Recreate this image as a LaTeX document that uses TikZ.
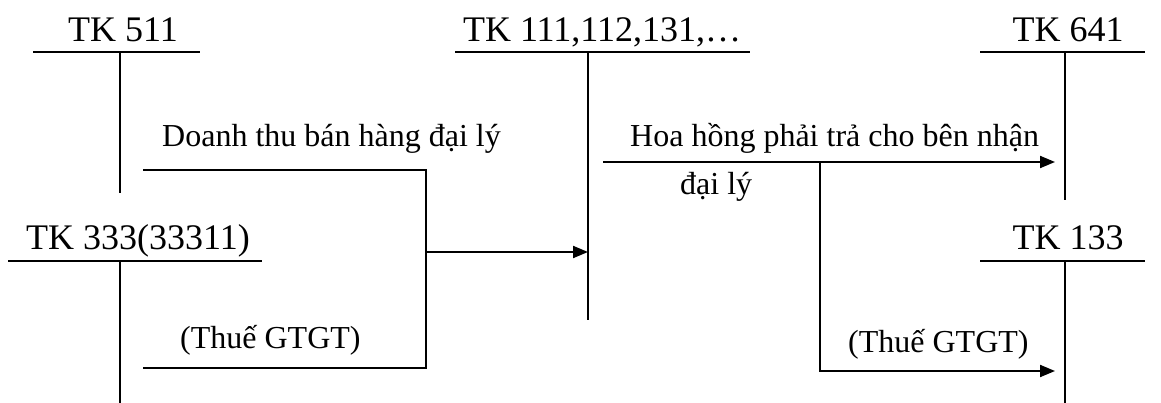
\documentclass[tikz,border=0pt]{standalone}
\usepackage{fontspec}
\setmainfont{Liberation Serif}
\usetikzlibrary{arrows.meta}
\begin{document}
\begin{tikzpicture}[x=1pt,y=-1pt]
    \tikzstyle{tk}=[font=\fontsize{36}{40}\selectfont,anchor=base,inner sep=0pt]
    \tikzstyle{lbl}=[font=\fontsize{32}{36}\selectfont,anchor=base west,inner sep=0pt]
    \tikzstyle{acct}=[line width=1.6pt]
    \tikzstyle{flow}=[line width=2pt,-{Triangle[length=15pt,width=12pt]}]
    \useasboundingbox (0,0) rectangle (1161,403);
    % account names
    \node[tk] (tk511) at (123,42) {TK 511};
    \node[tk] (tk333) at (138,250) {TK 333(33311)};
    \node[tk] (tk111) at (602,42) {TK 111,112,131,\dots};
    \node[tk] (tk641) at (1068,42) {TK 641};
    \node[tk] (tk133) at (1068,250) {TK 133};
    % T accounts
    \coordinate (a511) at (120,52);
    \coordinate (a333) at (120,261);
    \coordinate (a111) at (588,52);
    \coordinate (a641) at (1065,52);
    \coordinate (a133) at (1065,261);
    \draw[acct] (33,52) -- (200,52) (a511) -- (120,193);
    \draw[acct] (8,261) -- (262,261) (a333) -- (120,403);
    \draw[acct] (455,52) -- (750,52) (a111) -- (588,320);
    \draw[acct] (980,52) -- (1145,52) (a641) -- (1065,200);
    \draw[acct] (980,261) -- (1145,261) (a133) -- (1065,403);
    % flows
    \coordinate (dt1) at (143,170);
    \coordinate (dt2) at (426,170);
    \coordinate (dt3) at (426,252);
    \coordinate (dt4) at (426,368);
    \coordinate (dt5) at (143,368);
    \draw[flow,-] (dt1) -- (dt2) -- (dt4) -- (dt5);
    \draw[flow] (dt3) -- (a111 |- dt3);
    \coordinate (hh1) at (603,162);
    \coordinate (hh2) at (820,162);
    \coordinate (hh3) at (820,371);
    \draw[flow] (hh1) -- (1055,162);
    \draw[flow] (hh2) -- (hh3) -- (1055,371);
    % labels
    \node[lbl] (dtbh) at (162,147) {Doanh thu bán hàng đại lý};
    \node[lbl] (vat1) at (180,348) {(Thuế GTGT)};
    \node[lbl] (hoahong) at (630,147) {Hoa hồng phải trả cho bên nhận};
    \node[lbl] (daily) at (680,195) {đại lý};
    \node[lbl] (vat2) at (848,352) {(Thuế GTGT)};
\end{tikzpicture}
\end{document}
